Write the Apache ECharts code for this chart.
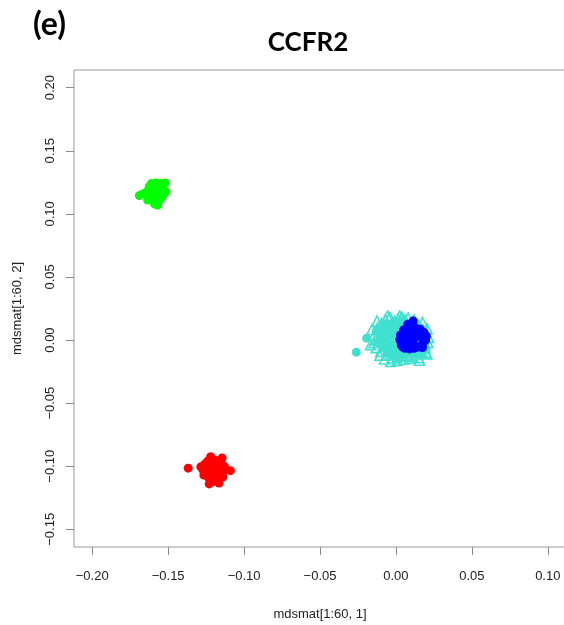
<!DOCTYPE html>
<html>
<head>
<meta charset="utf-8">
<script src="https://cdn.jsdelivr.net/npm/echarts@6/dist/echarts.min.js"></script>
<style>html,body{margin:0;padding:0;background:#fff}#c{width:564px;height:625px}</style>
</head>
<body>
<div id="c"></div>
<script>
const xTicks = [-0.20, -0.15, -0.10, -0.05, 0.00, 0.05, 0.10];
const yTicks = [-0.15, -0.10, -0.05, 0.00, 0.05, 0.10, 0.15, 0.20];

const greenPts = [[-0.1690,0.1145],[-0.1665,0.1160],[-0.1640,0.1175],[-0.1625,0.1215],[-0.1610,0.1240],[-0.1595,0.1225],[-0.1580,0.1245],[-0.1560,0.1235],[-0.1545,0.1240],[-0.1520,0.1245],[-0.1535,0.1210],[-0.1555,0.1190],[-0.1575,0.1180],[-0.1600,0.1160],[-0.1620,0.1140],[-0.1605,0.1120],[-0.1585,0.1105],[-0.1565,0.1095],[-0.1590,0.1080],[-0.1570,0.1070],[-0.1550,0.1120],[-0.1530,0.1150],[-0.1515,0.1175],[-0.1545,0.1165],[-0.1610,0.1195],[-0.1635,0.1110],[-0.1560,0.1145],[-0.1595,0.1140]];

const redPts = [[-0.1368,-0.1015],[-0.1270,-0.1030],[-0.1285,-0.1005],[-0.1260,-0.0985],[-0.1240,-0.0960],[-0.1220,-0.0925],[-0.1195,-0.0950],[-0.1145,-0.0935],[-0.1150,-0.0975],[-0.1130,-0.1000],[-0.1090,-0.1035],[-0.1140,-0.1045],[-0.1170,-0.1065],[-0.1195,-0.1050],[-0.1220,-0.1025],[-0.1245,-0.1055],[-0.1265,-0.1070],[-0.1235,-0.1090],[-0.1210,-0.1105],[-0.1230,-0.1140],[-0.1165,-0.1133],[-0.1140,-0.1085],[-0.1200,-0.1000],[-0.1180,-0.0990],[-0.1215,-0.0975],[-0.1155,-0.1020],[-0.1250,-0.1010],[-0.1190,-0.1080],[-0.1200,-0.1120],[-0.1175,-0.1030]];

const cyanTriPts = [[-0.0167,-0.0037],[-0.0158,0.0084],[-0.0035,-0.0170],[0.0204,-0.0110],[-0.0140,0.0040],[-0.0130,-0.0060],[-0.0120,0.0100],[-0.0110,0.0020],[-0.0100,-0.0090],[-0.0095,0.0130],[-0.0085,0.0060],[-0.0080,-0.0030],[-0.0070,0.0160],[-0.0065,-0.0120],[-0.0060,0.0090],[-0.0050,0.0010],[-0.0045,-0.0070],[-0.0040,0.0180],[-0.0030,0.0120],[-0.0025,-0.0140],[-0.0020,0.0050],[-0.0015,-0.0040],[-0.0010,0.0150],[0.0000,-0.0100],[0.0005,0.0080],[0.0010,-0.0160],[0.0015,0.0170],[0.0020,-0.0060],[0.0030,0.0130],[0.0035,-0.0130],[0.0040,0.0180],[0.0050,-0.0150],[0.0060,0.0160],[0.0070,-0.0120],[0.0080,0.0175],[0.0090,-0.0145],[0.0100,0.0140],[0.0110,-0.0130],[0.0120,0.0160],[0.0130,-0.0110],[0.0140,0.0130],[0.0150,-0.0140],[0.0160,0.0110],[0.0170,-0.0090],[0.0180,0.0080],[0.0190,-0.0060],[0.0200,0.0050],[0.0210,-0.0020],[0.0215,0.0020],[0.0205,0.0090],[0.0195,-0.0100],[0.0175,0.0140],[0.0155,-0.0160],[-0.0125,0.0150],[-0.0105,-0.0120],[-0.0135,0.0000],[-0.0145,-0.0020],[-0.0055,0.0190],[0.0025,0.0190],[-0.0075,-0.0150]];

const cyanDotPts = [[-0.0261,-0.0096],[-0.0193,0.0015],[-0.0110,0.0050],[-0.0080,0.0010],[-0.0050,0.0070],[-0.0030,-0.0040],[-0.0010,0.0100],[0.0000,-0.0150],[0.0030,-0.0090],[0.0040,0.0110],[0.0080,-0.0100],[0.0140,-0.0080],[0.0170,0.0060],[0.0190,-0.0030],[-0.0060,-0.0080],[0.0100,0.0120],[-0.0120,-0.0020],[-0.0095,0.0090],[-0.0090,-0.0060],[-0.0065,0.0130],[-0.0040,-0.0110],[-0.0035,0.0030],[-0.0020,0.0140],[-0.0010,-0.0080],[0.0010,0.0040],[0.0015,-0.0120],[0.0025,0.0150],[0.0050,-0.0120],[0.0060,0.0140],[0.0110,-0.0110],[0.0130,0.0130],[0.0160,-0.0110],[0.0185,0.0040],[0.0200,-0.0070],[-0.0070,-0.0010],[-0.0130,0.0070]];

const bluePts = [[0.0113,0.0150],[0.0078,0.0126],[0.0050,0.0080],[0.0030,0.0040],[0.0025,0.0000],[0.0035,-0.0040],[0.0060,-0.0065],[0.0090,-0.0070],[0.0120,-0.0065],[0.0150,-0.0055],[0.0175,-0.0030],[0.0195,0.0000],[0.0200,0.0030],[0.0185,0.0060],[0.0160,0.0085],[0.0130,0.0095],[0.0100,0.0090],[0.0070,0.0050],[0.0080,0.0010],[0.0110,0.0020],[0.0140,0.0030],[0.0165,0.0020],[0.0120,-0.0030],[0.0090,-0.0030],[0.0060,-0.0020],[0.0150,0.0060],[0.0100,0.0050],[0.0060,0.0025],[0.0175,-0.0060],[0.0045,-0.0055]];

const fmt = v => { const s = Math.abs(v).toFixed(2); return (v < -1e-9 ? '\u2212' : '') + s; };
const labelFont = 'Liberation Sans, Arial, sans-serif';

const chart = echarts.init(document.getElementById('c'), null, {renderer: 'canvas'});
chart.setOption({
  animation: false,
  backgroundColor: '#ffffff',
  grid: {left: 74, top: 70, width: 492, height: 477, show: true, borderColor: '#9a9a9a', borderWidth: 1, backgroundColor: 'transparent', containLabel: false, outerBoundsMode: 'none'},
  graphic: [
    {type: 'text', left: 33, top: 9, style: {text: '(e)', font: 'bold 32px Lato, sans-serif', fill: '#000'}},
    {type: 'text', x: 308, y: 43, style: {text: 'CCFR2', font: 'bold 26px Lato, sans-serif', fill: '#000', align: 'center', verticalAlign: 'middle'}}
  ],
  xAxis: {
    type: 'value', min: -0.212, max: 0.112,
    name: 'mdsmat[1:60, 1]', nameLocation: 'middle', nameGap: 61,
    nameTextStyle: {fontFamily: labelFont, fontSize: 13, color: '#222'},
    axisLine: {show: false, onZero: false},
    axisTick: {show: true, inside: false, length: 8, lineStyle: {color: '#8a8a8a', width: 1}, customValues: xTicks},
    axisLabel: {show: true, margin: 23, fontFamily: labelFont, fontSize: 13, color: '#222', formatter: fmt, customValues: xTicks},
    splitLine: {show: false}
  },
  yAxis: {
    type: 'value', min: -0.164, max: 0.214,
    name: 'mdsmat[1:60, 2]', nameLocation: 'middle', nameGap: 50, nameRotate: 90,
    nameTextStyle: {fontFamily: labelFont, fontSize: 13, color: '#222'},
    axisLine: {show: false, onZero: false},
    axisTick: {show: true, inside: false, length: 8, lineStyle: {color: '#8a8a8a', width: 1}, customValues: yTicks},
    axisLabel: {show: true, rotate: 90, margin: 17, fontFamily: labelFont, fontSize: 13, color: '#222', formatter: fmt, customValues: yTicks},
    splitLine: {show: false}
  },
  series: [
    {type: 'scatter', name: 'green', data: greenPts, symbol: 'circle', symbolSize: 9, itemStyle: {color: '#00ff00', opacity: 1}},
    {type: 'scatter', name: 'red', data: redPts, symbol: 'circle', symbolSize: 9, itemStyle: {color: '#ff0000', opacity: 1}},
    {type: 'scatter', name: 'cyanTri', data: cyanTriPts, symbol: 'triangle', symbolSize: 10, itemStyle: {color: 'rgba(0,0,0,0)', borderColor: '#40e0d0', borderWidth: 1.6, opacity: 1}},
    {type: 'scatter', name: 'cyanDot', data: cyanDotPts, symbol: 'circle', symbolSize: 9, itemStyle: {color: '#40e0d0', opacity: 1}},
    {type: 'scatter', name: 'blue', data: bluePts, symbol: 'circle', symbolSize: 9, itemStyle: {color: '#0000ff', opacity: 1}}
  ]
});
</script>
</body>
</html>
